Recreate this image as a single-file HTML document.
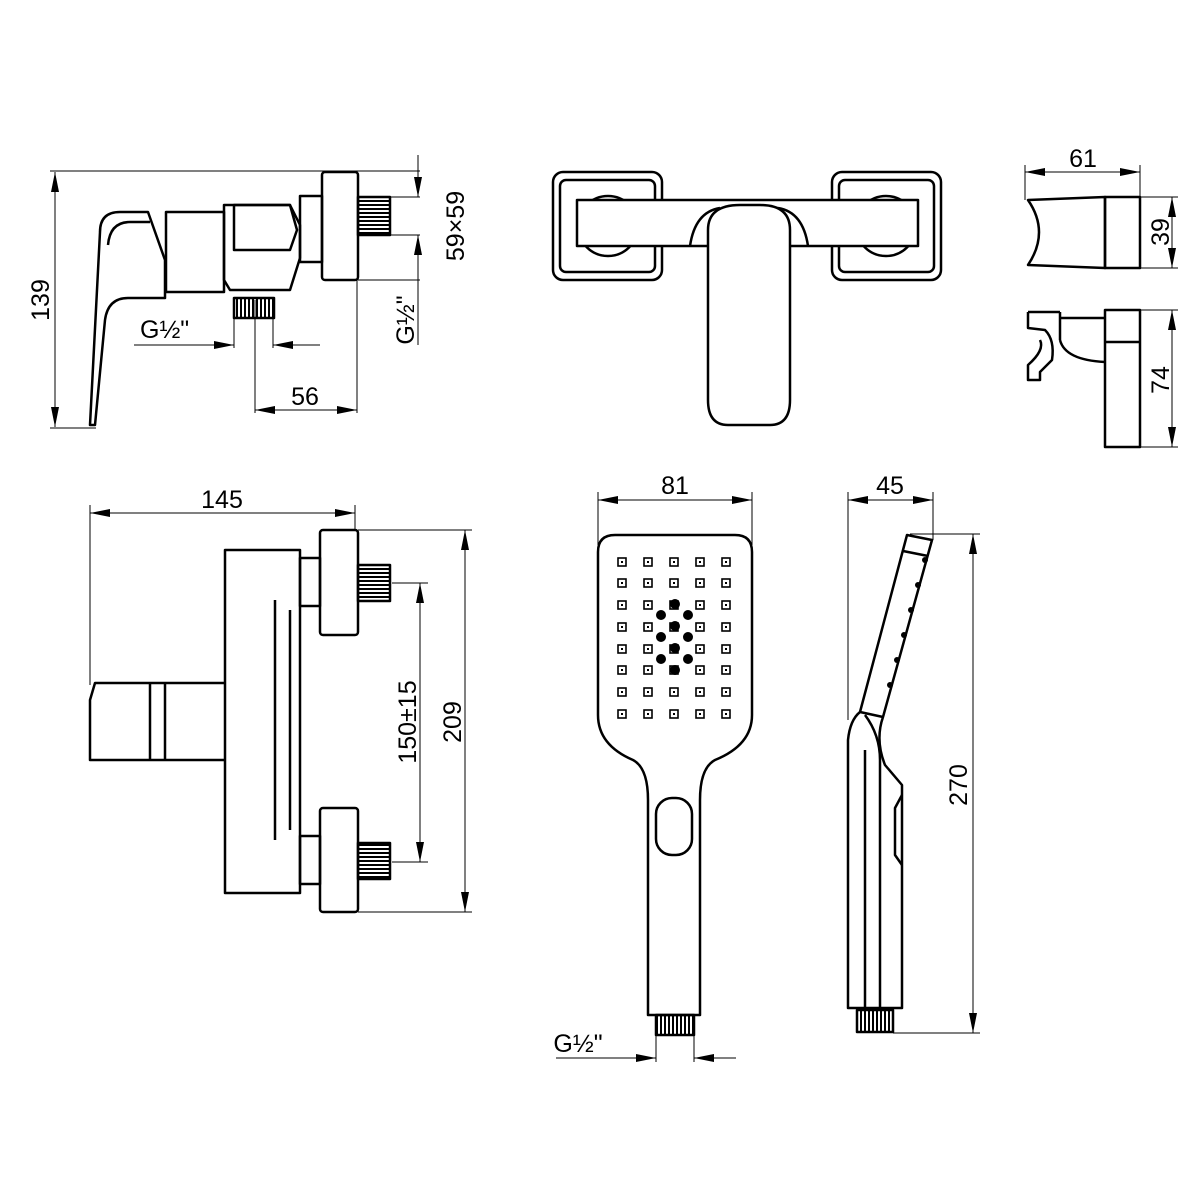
<!DOCTYPE html>
<html><head><meta charset="utf-8"><style>body{margin:0;background:#fff}svg{display:block}text{font-family:"Liberation Sans",sans-serif;font-size:25px;fill:#000}</style></head><body>
<svg width="1200" height="1200" viewBox="0 0 1200 1200" xmlns="http://www.w3.org/2000/svg">
<defs>
<marker id="a" viewBox="0 0 20 8" refX="20" refY="4" markerWidth="20" markerHeight="8" markerUnits="userSpaceOnUse" orient="auto-start-reverse"><path d="M0,0L20,4L0,8z" fill="#000"/></marker>
<pattern id="th" width="4" height="4" patternUnits="userSpaceOnUse"><rect width="4" height="2" fill="#000"/></pattern>
<pattern id="tv" width="4" height="4" patternUnits="userSpaceOnUse"><rect width="2" height="4" fill="#000"/></pattern>
</defs>
<g stroke="#000" stroke-width="1" fill="none">
<line x1="50" y1="171" x2="420" y2="171"/><line x1="50" y1="428" x2="96" y2="428"/>
<line x1="55" y1="172" x2="55" y2="427" marker-start="url(#a)" marker-end="url(#a)"/>
<line x1="418" y1="155" x2="418" y2="197" marker-end="url(#a)"/>
<line x1="418" y1="235" x2="418" y2="345"/><line x1="418" y1="255" x2="418" y2="235" marker-end="url(#a)"/>
<line x1="360" y1="197" x2="420" y2="197"/><line x1="360" y1="235" x2="420" y2="235"/>
<line x1="358" y1="280" x2="420" y2="280"/>
<line x1="134" y1="345" x2="234" y2="345" marker-end="url(#a)"/><line x1="320" y1="345" x2="273" y2="345" marker-end="url(#a)"/>
<line x1="234" y1="318" x2="234" y2="348"/><line x1="273" y1="318" x2="273" y2="348"/>
<line x1="255" y1="300" x2="255" y2="413"/><line x1="357" y1="280" x2="357" y2="413"/>
<line x1="255" y1="410" x2="357" y2="410" marker-start="url(#a)" marker-end="url(#a)"/>
<line x1="1025" y1="165" x2="1025" y2="200"/><line x1="1140" y1="165" x2="1140" y2="200"/>
<line x1="1025" y1="172" x2="1140" y2="172" marker-start="url(#a)" marker-end="url(#a)"/>
<line x1="1140" y1="197" x2="1178" y2="197"/><line x1="1140" y1="268" x2="1178" y2="268"/>
<line x1="1172" y1="197" x2="1172" y2="268" marker-start="url(#a)" marker-end="url(#a)"/>
<line x1="1140" y1="310" x2="1178" y2="310"/><line x1="1140" y1="447" x2="1178" y2="447"/>
<line x1="1172" y1="310" x2="1172" y2="447" marker-start="url(#a)" marker-end="url(#a)"/>
<line x1="90" y1="505" x2="90" y2="685"/><line x1="355" y1="505" x2="355" y2="530"/>
<line x1="90" y1="513" x2="355" y2="513" marker-start="url(#a)" marker-end="url(#a)"/>
<line x1="358" y1="530" x2="472" y2="530"/><line x1="358" y1="912" x2="472" y2="912"/>
<line x1="465" y1="530" x2="465" y2="912" marker-start="url(#a)" marker-end="url(#a)"/>
<line x1="392" y1="583" x2="428" y2="583"/><line x1="392" y1="862" x2="428" y2="862"/>
<line x1="420" y1="583" x2="420" y2="862" marker-start="url(#a)" marker-end="url(#a)"/>
<line x1="598" y1="492" x2="598" y2="545"/><line x1="752" y1="492" x2="752" y2="545"/>
<line x1="598" y1="500" x2="752" y2="500" marker-start="url(#a)" marker-end="url(#a)"/>
<line x1="556" y1="1058" x2="656" y2="1058" marker-end="url(#a)"/><line x1="736" y1="1058" x2="694" y2="1058" marker-end="url(#a)"/>
<line x1="656" y1="1035" x2="656" y2="1062"/><line x1="694" y1="1035" x2="694" y2="1062"/>
<line x1="848" y1="492" x2="848" y2="720"/><line x1="933" y1="492" x2="933" y2="540"/>
<line x1="848" y1="500" x2="933" y2="500" marker-start="url(#a)" marker-end="url(#a)"/>
<line x1="910" y1="534" x2="980" y2="534"/><line x1="893" y1="1033" x2="980" y2="1033"/>
<line x1="973" y1="534" x2="973" y2="1033" marker-start="url(#a)" marker-end="url(#a)"/>
</g>
<g fill="none" stroke="#000" stroke-width="2.5" stroke-linejoin="round">
<path d="M100,232 Q100,212 120,212 L148,212 L165,260 L165,298 L128,298 Q108,298 105,320 L95,425 L90,425 L100,232Z"/>
<path d="M108,245 Q110,222 130,222 L150,222"/>
<rect x="166" y="212" width="58" height="80"/>
<path d="M224,205 L290,205 L300,225 L300,258 L290,290 L230,290 L224,280Z"/>
<path d="M234,205 L290,205 L297,230 L290,250 L234,250 Z"/>
<rect x="300" y="196" width="22" height="66"/>
<rect x="322" y="172" width="36" height="108" rx="3"/>
<rect x="234" y="298" width="40" height="20" fill="url(#tv)"/>
<rect x="358" y="197" width="32" height="38" fill="url(#th)"/>
<rect x="553" y="172" width="109" height="108" rx="10"/><rect x="560" y="180" width="95" height="92" rx="6"/>
<rect x="832" y="172" width="109" height="108" rx="10"/><rect x="839" y="180" width="95" height="92" rx="6"/>
<circle cx="608" cy="226" r="30"/><circle cx="886" cy="226" r="30"/>
<rect x="577" y="200" width="341" height="46" fill="#fff"/>
<path d="M690,246 Q695,212 720,208 M808,246 Q803,212 778,208" />
<path d="M708,230 Q708,205 740,205 L760,205 Q790,205 790,230 L790,400 Q790,425 770,425 L728,425 Q708,425 708,400Z" fill="#fff"/>
<path d="M1028,200 L1105,197 L1105,268 L1028,265 Q1050,232 1028,200Z"/>
<rect x="1105" y="197" width="35" height="71"/>
<rect x="1105" y="310" width="35" height="137"/>
<line x1="1105" y1="342" x2="1140" y2="342"/>
<path d="M1028,312 L1028,328 L1045,330 Q1055,340 1052,360 L1040,372 L1040,380 L1028,380 L1028,365 Q1045,350 1040,340 M1060,312 L1060,340 M1028,312 L1060,312 M1105,318 L1060,318 M1060,340 Q1065,360 1105,362"/>
<rect x="225" y="550" width="75" height="343"/>
<path d="M225,683 L95,683 L90,700 L90,760 L225,760"/>
<line x1="150" y1="683" x2="150" y2="760"/><line x1="165" y1="683" x2="165" y2="760"/>
<line x1="275" y1="600" x2="275" y2="840"/><line x1="290" y1="610" x2="290" y2="830"/>
<rect x="300" y="558" width="20" height="48"/><rect x="300" y="836" width="20" height="48"/>
<rect x="320" y="530" width="38" height="105" rx="3"/><rect x="320" y="808" width="38" height="104" rx="3"/>
<rect x="358" y="565" width="32" height="36" fill="url(#th)"/><rect x="358" y="843" width="32" height="36" fill="url(#th)"/>
<path d="M615,535 L735,535 Q752,535 752,552 L752,715 Q752,745 715,760 Q700,768 700,800 L700,1015 L648,1015 L648,800 Q648,768 633,760 Q598,745 598,715 L598,552 Q598,535 615,535Z"/>
<rect x="656" y="798" width="36" height="57" rx="16"/>
<rect x="656" y="1015" width="38" height="20" fill="url(#tv)"/>
<path d="M907,535 L932,540 L883,717 Q875,740 885,765 L902,785 L902,1008 L848,1008 L848,740 Q850,720 860,712Z"/>
<line x1="903" y1="551" x2="928" y2="556"/><line x1="860" y1="712" x2="883" y2="717"/>
<path d="M865,715 Q880,735 880,760 L880,1008 M865,1008 L865,750"/>
<path d="M902,795 L895,808 L895,855 L902,865"/>
<rect x="857" y="1010" width="36" height="22" fill="url(#tv)"/>
</g>
<g>
<g id="r" fill="none" stroke="#000" stroke-width="1.6">
<rect x="618" y="558" width="8" height="8"/><rect x="644" y="558" width="8" height="8"/><rect x="670" y="558" width="8" height="8"/><rect x="696" y="558" width="8" height="8"/><rect x="722" y="558" width="8" height="8"/>
</g>
<g id="d" fill="#000">
<rect x="621" y="561" width="2" height="2"/><rect x="647" y="561" width="2" height="2"/><rect x="673" y="561" width="2" height="2"/><rect x="699" y="561" width="2" height="2"/><rect x="725" y="561" width="2" height="2"/>
</g>
<use href="#r" y="21"/><use href="#r" y="43"/><use href="#r" y="65"/><use href="#r" y="87"/><use href="#r" y="108"/><use href="#r" y="130"/><use href="#r" y="152"/>
<use href="#d" y="21"/><use href="#d" y="43"/><use href="#d" y="65"/><use href="#d" y="87"/><use href="#d" y="108"/><use href="#d" y="130"/><use href="#d" y="152"/>
<g fill="#000">
<circle cx="661" cy="615" r="5"/><circle cx="688" cy="615" r="5"/><circle cx="675" cy="604" r="5"/><circle cx="675" cy="626" r="5"/><circle cx="661" cy="637" r="5"/><circle cx="688" cy="637" r="5"/><circle cx="675" cy="648" r="5"/><circle cx="661" cy="659" r="5"/><circle cx="688" cy="659" r="5"/><circle cx="675" cy="670" r="5"/>
<circle cx="925" cy="560" r="3"/><circle cx="918" cy="585" r="3"/><circle cx="911" cy="610" r="3"/><circle cx="904" cy="635" r="3"/><circle cx="897" cy="660" r="3"/><circle cx="890" cy="685" r="3"/>
</g>
</g>
<text x="40" y="300" text-anchor="middle" transform="rotate(-90 40 300)" dy="9">139</text>
<text x="140" y="338">G½"</text>
<text x="305" y="405" text-anchor="middle">56</text>
<text x="455" y="226" text-anchor="middle" transform="rotate(-90 455 226)" dy="9">59×59</text>
<text x="405" y="320" text-anchor="middle" transform="rotate(-90 405 320)" dy="9">G½"</text>
<text x="1083" y="167" text-anchor="middle">61</text>
<text x="1160" y="232" text-anchor="middle" transform="rotate(-90 1160 232)" dy="9">39</text>
<text x="1160" y="380" text-anchor="middle" transform="rotate(-90 1160 380)" dy="9">74</text>
<text x="222" y="508" text-anchor="middle">145</text>
<text x="452" y="722" text-anchor="middle" transform="rotate(-90 452 722)" dy="9">209</text>
<text x="407" y="722" text-anchor="middle" transform="rotate(-90 407 722)" dy="9">150±15</text>
<text x="675" y="494" text-anchor="middle">81</text>
<text x="578" y="1052" text-anchor="middle">G½"</text>
<text x="890" y="494" text-anchor="middle">45</text>
<text x="958" y="785" text-anchor="middle" transform="rotate(-90 958 785)" dy="9">270</text>
</svg>
</body></html>
